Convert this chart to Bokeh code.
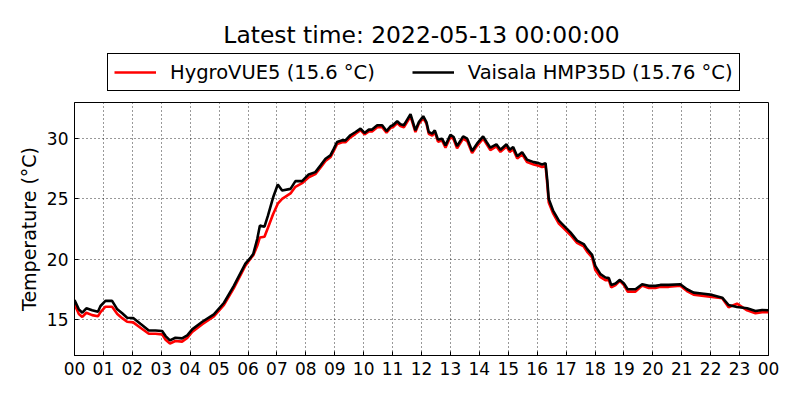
from datetime import datetime, timedelta
from bokeh.plotting import figure
from bokeh.layouts import column
from bokeh.models import (Legend, LegendItem, FixedTicker, DatetimeTickFormatter,
                          Range1d, ColumnDataSource, Label)
from bokeh.embed import file_html
from bokeh.resources import INLINE

title_text = "Latest time: 2022-05-13 00:00:00"
hygro_label = "HygroVUE5 (15.6 °C)"
vaisala_label = "Vaisala HMP35D (15.76 °C)"
y_label = "Temperature (°C)"
y_ticks = [15, 20, 25, 30]
x_tick_hours = list(range(0, 25))

# hours after 2022-05-12 00:00
hours = [0.00, 0.15, 0.27, 0.41, 0.61, 0.81, 0.90, 1.07, 1.30, 1.48, 1.65, 1.82, 2.03, 2.28,
         2.57, 2.80, 3.03, 3.15, 3.30, 3.49, 3.72, 3.90, 4.07, 4.42, 4.82, 5.17, 5.51, 5.91,
         6.09, 6.18, 6.32, 6.41, 6.57, 6.69, 6.87, 7.03, 7.18, 7.47, 7.64, 7.87, 8.10, 8.33,
         8.51, 8.68, 8.85, 8.97, 9.08, 9.26, 9.37, 9.54, 9.72, 9.89, 10.03, 10.18, 10.29,
         10.47, 10.64, 10.79, 10.93, 11.01, 11.16, 11.27, 11.39, 11.48, 11.62, 11.79, 11.91,
         12.06, 12.17, 12.25, 12.37, 12.46, 12.57, 12.71, 12.83, 13.00, 13.11, 13.23, 13.44,
         13.58, 13.75, 13.92, 14.13, 14.25, 14.38, 14.59, 14.73, 14.94, 15.05, 15.17, 15.31,
         15.48, 15.65, 15.88, 16.05, 16.17, 16.29, 16.35, 16.40, 16.55, 16.75, 16.92, 17.15,
         17.38, 17.61, 17.73, 17.90, 18.01, 18.19, 18.36, 18.48, 18.56, 18.71, 18.86, 19.00,
         19.13, 19.40, 19.63, 19.86, 20.09, 20.26, 20.55, 20.95, 21.18, 21.41, 21.76, 22.05,
         22.40, 22.62, 22.91, 23.26, 23.55, 23.78, 24.00]

vaisala = [16.60, 15.83, 15.55, 15.92, 15.75, 15.63, 16.11, 16.53, 16.53, 15.83, 15.50, 15.13,
           15.11, 14.63, 14.08, 14.08, 14.03, 13.61, 13.25, 13.47, 13.42, 13.67, 14.17, 14.80,
           15.42, 16.38, 17.78, 19.63, 20.13, 20.42, 21.67, 22.78, 22.69, 23.61, 25.13, 26.19,
           25.69, 25.83, 26.47, 26.47, 27.03, 27.22, 27.78, 28.33, 28.61, 29.17, 29.72, 29.86,
           29.86, 30.28, 30.55, 30.83, 30.47, 30.75, 30.75, 31.11, 31.11, 30.63, 31.03, 31.11,
           31.44, 31.19, 31.11, 31.47, 32.03, 30.69, 31.38, 31.86, 31.38, 30.55, 30.42, 30.69,
           29.92, 30.00, 29.44, 30.33, 30.13, 29.38, 30.19, 30.00, 28.97, 29.58, 30.19, 29.72,
           29.25, 29.53, 29.08, 29.53, 29.08, 29.30, 28.53, 28.88, 28.25, 28.05, 27.97, 27.86,
           27.97, 26.53, 25.00, 24.03, 23.19, 22.78, 22.22, 21.53, 21.25, 20.83, 20.36, 19.44,
           18.75, 18.47, 18.42, 17.86, 17.97, 18.28, 17.97, 17.50, 17.50, 17.92, 17.78, 17.78,
           17.86, 17.86, 17.92, 17.50, 17.22, 17.13, 17.03, 16.80, 16.19, 16.03, 15.92, 15.69,
           15.78, 15.76]

hygrovue = [16.25, 15.45, 15.20, 15.55, 15.35, 15.25, 15.60, 16.05, 16.05, 15.45, 15.10, 14.80,
            14.75, 14.30, 13.80, 13.80, 13.75, 13.30, 13.00, 13.20, 13.15, 13.45, 13.95, 14.60,
            15.25, 16.20, 17.60, 19.45, 20.05, 20.30, 21.10, 21.80, 21.85, 22.60, 23.75, 24.60,
            25.00, 25.45, 26.00, 26.30, 26.80, 27.05, 27.60, 28.15, 28.45, 29.00, 29.55, 29.70,
            29.70, 30.10, 30.40, 30.70, 30.35, 30.60, 30.60, 30.95, 30.95, 30.50, 30.90, 30.95,
            31.30, 31.05, 30.95, 31.30, 31.85, 30.55, 31.25, 31.70, 31.25, 30.40, 30.25, 30.55,
            29.75, 29.85, 29.25, 30.15, 29.95, 29.20, 30.00, 29.80, 28.80, 29.40, 30.00, 29.55,
            29.05, 29.35, 28.90, 29.35, 28.90, 29.10, 28.35, 28.70, 28.05, 27.85, 27.75, 27.65,
            27.75, 26.20, 24.70, 23.80, 22.95, 22.55, 22.00, 21.35, 21.05, 20.60, 20.15, 19.10,
            18.50, 18.25, 18.25, 17.65, 17.85, 18.20, 17.85, 17.30, 17.30, 17.80, 17.60, 17.60,
            17.70, 17.70, 17.80, 17.35, 17.05, 16.95, 16.85, 16.75, 16.00, 16.30, 15.75, 15.50,
            15.60, 15.60]

base = datetime(2022, 5, 12)
epoch = datetime(1970, 1, 1)
times = [base + timedelta(hours=h) for h in hours]
tick_ms = [((base + timedelta(hours=h)) - epoch).total_seconds() * 1000 for h in x_tick_hours]

src = ColumnDataSource(dict(t=times, hygro=hygrovue, vais=vaisala))

# ---------------- header figure: title + legend ----------------
# (its frame is aligned by the column with the main frame: 694 px wide)
head = figure(width=792, height=100, title=None, output_backend="svg", toolbar_location=None,
              x_range=Range1d(0, 694), y_range=Range1d(0, 100),
              x_axis_location=None, y_axis_location=None,
              min_border_left=0, min_border_right=0, min_border_top=0, min_border_bottom=0)
head.outline_line_color = None
head.background_fill_color = "white"
head.border_fill_color = "white"
head.xgrid.visible = False
head.ygrid.visible = False

head.add_layout(Label(x=347, y=66, text=title_text, text_align="center",
                      text_baseline="alphabetic", text_font="DejaVu Sans",
                      text_font_size="23.4px", text_color="black"))

nan = float("nan")
d1 = head.line(x=[nan], y=[nan], line_color="red", line_width=2.6)
d2 = head.line(x=[nan], y=[nan], line_color="black", line_width=2.6)

legend = Legend(items=[LegendItem(label=hygro_label, renderers=[d1]),
                       LegendItem(label=vaisala_label, renderers=[d2])],
                orientation="horizontal", location=(33, 9))
legend.border_line_color = "black"
legend.border_line_width = 1
legend.border_line_alpha = 1
legend.background_fill_color = "white"
legend.background_fill_alpha = 1
legend.padding = 6
legend.spacing = 37
legend.margin = 0
legend.glyph_width = 42
legend.glyph_height = 24
legend.label_height = 24
legend.label_standoff = 14
legend.label_text_font = "DejaVu Sans"
legend.label_text_font_size = "19.5px"
legend.label_text_color = "black"
head.add_layout(legend, "center")

# ---------------- main figure ----------------
p = figure(width=792, height=292, x_axis_type="datetime", title=None,
           output_backend="svg", toolbar_location=None,
           x_range=Range1d(base, base + timedelta(hours=24)), y_range=Range1d(12, 33),
           min_border_left=74, min_border_right=24, min_border_top=2, min_border_bottom=37)

p.background_fill_color = "white"
p.border_fill_color = "white"
p.outline_line_color = "black"
p.outline_line_width = 1
p.outline_line_alpha = 1

p.line("t", "hygro", source=src, line_color="red", line_width=2.6)
p.line("t", "vais", source=src, line_color="black", line_width=2.6)

xt = FixedTicker(ticks=tick_ms)
p.xaxis.ticker = xt
p.xgrid.ticker = xt
p.xaxis.formatter = DatetimeTickFormatter(hours="%H", days="%H", hourmin="%H", minutes="%H",
                                          months="%H", years="%H",
                                          strip_leading_zeros=False)
yt = FixedTicker(ticks=y_ticks)
p.yaxis.ticker = yt
p.ygrid.ticker = yt

for ax in (p.xaxis, p.yaxis):
    ax.axis_line_color = "black"
    ax.major_tick_line_color = "black"
    ax.major_tick_in = 4
    ax.major_tick_out = 0
    ax.minor_tick_line_color = None
    ax.major_label_text_font = "DejaVu Sans"
    ax.major_label_text_font_size = "17px"
    ax.major_label_text_color = "black"
    ax.major_label_standoff = 6

p.yaxis.axis_label = y_label
p.yaxis.axis_label_text_font = "DejaVu Sans"
p.yaxis.axis_label_text_font_size = "19px"
p.yaxis.axis_label_text_font_style = "normal"
p.yaxis.axis_label_text_color = "black"
p.yaxis.axis_label_standoff = 4

for g in (p.xgrid, p.ygrid):
    g.grid_line_color = "black"
    g.grid_line_dash = "1 3"
    g.grid_line_width = 1
    g.grid_line_alpha = 0.8

layout = column(head, p, spacing=0)
open("out.html", "w").write(file_html(layout, INLINE))
